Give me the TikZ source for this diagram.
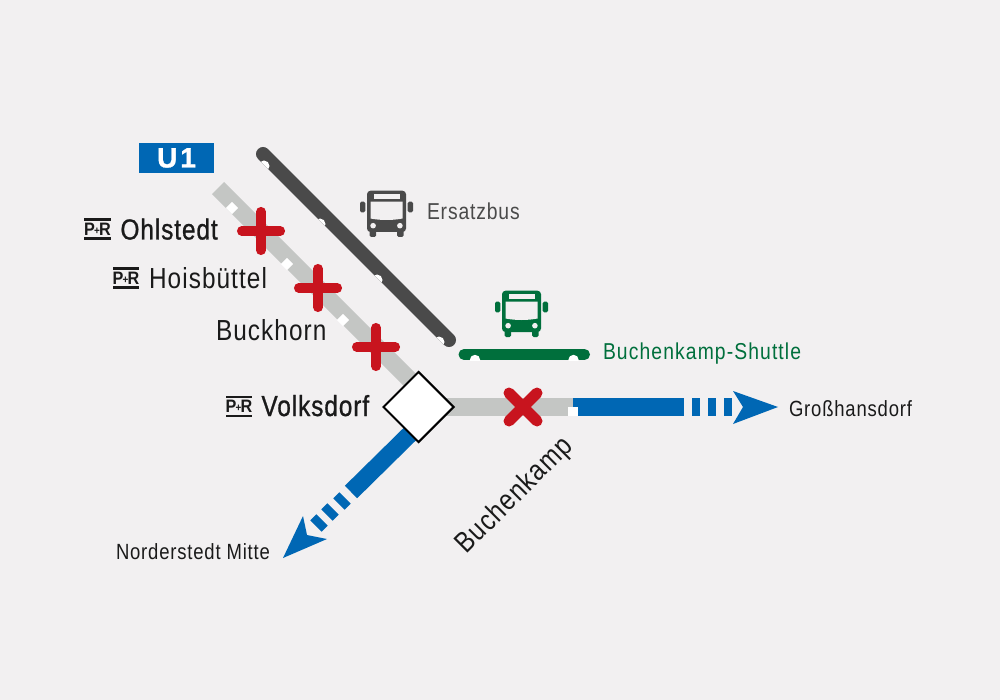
\documentclass[tikz,border=0pt]{standalone}
\usepackage{fontspec}
\setmainfont{Liberation Sans}
\newfontfamily\condl[FakeStretch=0.84,LetterSpace=3.7]{Liberation Sans}
\newfontfamily\condlw[FakeStretch=0.84,LetterSpace=4.8]{Liberation Sans}
\newfontfamily\condm[FakeStretch=0.84,FakeBold=0.9,LetterSpace=3.2]{Liberation Sans}
\newfontfamily\heavy[FakeBold=1]{Liberation Sans Bold}
\newfontfamily\badge[FakeStretch=0.9]{Liberation Sans Bold}
\usetikzlibrary{shapes.geometric}
\definecolor{bgc}{HTML}{F2F0F1}
\definecolor{ublue}{HTML}{0067B4}
\definecolor{railgrey}{HTML}{C4C6C4}
\definecolor{busdark}{HTML}{4A4A4A}
\definecolor{busgreen}{HTML}{006F3C}
\definecolor{crossred}{HTML}{C8141E}
\definecolor{ink}{HTML}{1A1A1A}
\tikzset{
  x=1pt,y=-1pt,
  label/.style={inner sep=0pt,outer sep=0pt,text=ink,font=\condl\fontsize{#1}{#1}\selectfont},
  labelw/.style={inner sep=0pt,outer sep=0pt,text=ink,font=\condlw\fontsize{#1}{#1}\selectfont},
  labelm/.style={inner sep=0pt,outer sep=0pt,text=ink,font=\condm\fontsize{#1}{#1}\selectfont},
  railline/.style={draw=railgrey,line width=17pt},
  blueline/.style={draw=ublue,line width=17.5pt},
  bluedash/.style={fill=ublue,draw=none,minimum width=8.5pt,minimum height=16pt,inner sep=0pt},
  stoptick/.style={fill=white,draw=none,minimum size=8.5pt,inner sep=0pt},
  crossarm/.style={draw=crossred,line width=9.5pt,line cap=round},
  pics/busicon/.style={code={
    \fill[#1,rounded corners=1.5pt] (-26.5,-12.3) rectangle (-21.2,-1.7);
    \fill[#1,rounded corners=1.5pt] (21.2,-12.3) rectangle (26.5,-1.7);
    \fill[#1,rounded corners=3.5pt] (-19.5,-23.3) rectangle (19.5,18);
    \fill[#1,rounded corners=1.5pt] (-17,10) rectangle (-10.5,23);
    \fill[#1,rounded corners=1.5pt] (10.5,10) rectangle (17,23);
    \fill[bgc] (-16,-12.3) -- (16,-12.3) -- (16,4.5) .. controls (6,6.5) and (-6,6.5) .. (-16,4.5) -- cycle;
    \fill[bgc] (-13,-20) rectangle (13,-15);
    \fill[bgc] (-13.4,11.7) circle (2.8pt);
    \fill[bgc] (13.4,11.7) circle (2.8pt);
  }},
  pics/prbadge/.style={code={
    \fill[ink] (-13.2,-10.8) rectangle (13.2,-8.3);
    \fill[ink] (-13.2,8.3) rectangle (13.2,10.8);
    \node[inner sep=0pt,text=ink,font=\badge\fontsize{18}{18}\selectfont] (-txt) at (0,0) {P\kern-0.8pt\raisebox{1pt}{\fontsize{11}{11}\selectfont+}\kern-0.8pt R};
  }},
}
\begin{document}
\begin{tikzpicture}
\useasboundingbox (0,0) rectangle (1000,700);
\fill[bgc] (0,0) rectangle (1000,700);

% named anchors
\coordinate (railtop) at (218,188);
\coordinate (railend) at (418,388);
\coordinate (shortstart) at (440,407);
\coordinate (railsplit) at (573,407);
\coordinate (bluesplit) at (684,407);
\coordinate (swstart) at (417,427);
\coordinate (swend) at (351,492);
\coordinate (ersatztop) at (263,154);
\coordinate (ersatzend) at (449,340);
\coordinate (shuttleleft) at (464,354.5);
\coordinate (shuttleright) at (584.5,354.5);

% rails
\draw[railline] (railtop) -- (railend);
\draw[draw=railgrey,line width=18pt] (shortstart) -- (railsplit);
\draw[blueline] (railsplit) -- (bluesplit);
\draw[blueline] (swstart) -- (swend);

% stop ticks on the grey line
\node[stoptick,rotate=45] (tickA) at (232,208) {};
\node[stoptick,rotate=45] (tickB) at (287,264) {};
\node[stoptick,rotate=45] (tickC) at (343,320) {};
\node[fill=white,draw=none,minimum width=10pt,minimum height=9.5pt,inner sep=0pt] (tickD) at (573,411.5) {};

% blue dashes east
\node[bluedash,minimum height=18pt] (eA) at (696,407) {};
\node[bluedash,minimum height=18pt] (eB) at (712,407) {};
\node[bluedash,minimum height=18pt] (eC) at (728,407) {};
\fill[ublue] (778,407) -- (733,391) -- (743,407) -- (733,424) -- cycle;

% blue dashes south-west
\node[bluedash,rotate=-135] (sA) at (342,501) {};
\node[bluedash,rotate=-135] (sB) at (330,512) {};
\node[bluedash,rotate=-135] (sC) at (319,523) {};
\fill[ublue] (283,558) -- (303,516) -- (307,535) -- (327,539) -- cycle;

% station diamond
\node[diamond,aspect=1,draw=black,line width=2pt,fill=white,minimum width=71pt,minimum height=71pt,inner sep=0pt] (volks) at (418.5,407) {};

% replacement bus line
\draw[draw=busdark,line width=14pt,line cap=round] (ersatztop) -- (ersatzend);
\begin{scope}
  \clip (258,159) -- (444,345) -- (454,335) -- (268,149) -- cycle;
  \fill[white] (264,166) circle (5.5pt);
  \fill[white] (320,224) circle (5.5pt);
  \fill[white] (377,280) circle (5.5pt);
  \fill[white] (439,342) circle (5.5pt);
\end{scope}

% shuttle line
\draw[draw=busgreen,line width=11pt,line cap=round] (shuttleleft) -- (shuttleright);
\begin{scope}
  \clip (455,349) rectangle (595,360);
  \fill[white] (475,360) circle (5.2pt);
  \fill[white] (573.5,360) circle (5.2pt);
\end{scope}

% red closures
\coordinate (pA) at (261,231);
\coordinate (pB) at (318,288);
\coordinate (pC) at (376,347);
\coordinate (xC) at (523,407);
\foreach \c in {pA,pB,pC}{
  \draw[crossarm] ([xshift=-19.3pt]\c) -- ([xshift=19.3pt]\c);
  \draw[crossarm] ([yshift=-19.3pt]\c) -- ([yshift=19.3pt]\c);
}
\draw[crossarm,line width=11pt] ([shift={(-14pt,-14pt)}]xC) -- ([shift={(14pt,14pt)}]xC);
\draw[crossarm,line width=11pt] ([shift={(-14pt,14pt)}]xC) -- ([shift={(14pt,-14pt)}]xC);

% bus icons
\pic (busA) at (386.5,214) {busicon=busdark};
\pic (busB) at (521.5,314) {busicon=busgreen};

% U1 plate
\node[fill=ublue,text=white,minimum width=75pt,minimum height=30pt,inner sep=0pt,font=\heavy\fontsize{28}{28}\selectfont] (uone) at (176.5,158) {U\kern3pt 1};

% P+R badges
\pic (prA) at (97.5,229) {prbadge};
\pic (prB) at (126,278) {prbadge};
\pic (prC) at (239,406.5) {prbadge};

% station names
\node[labelm=29,anchor=base west] (ohl) at (120.5,239.5) {Ohlstedt};
\node[label=29,anchor=base west] (hoi) at (149,288) {Hoisbüttel};
\node[label=29,anchor=base west] (buc) at (216,340) {Buckhorn};
\node[labelm=29,anchor=base west] (vol) at (261.5,416) {Volksdorf};
\node[label=23,anchor=base west,text=busdark] (ers) at (427,220) {Ersatzbus};
\node[labelw=23,anchor=base west,text=busgreen] (shu) at (603,359) {Buchenkamp-Shuttle};
\node[label=22,anchor=base west] (gro) at (789,416) {Großhansdorf};
\node[label=22,anchor=base west] (nor) at (116,559) {Norderstedt Mitte};
\node[label=29,rotate=45,anchor=center] (bka) at (515,496) {Buchenkamp};
\end{tikzpicture}
\end{document}
